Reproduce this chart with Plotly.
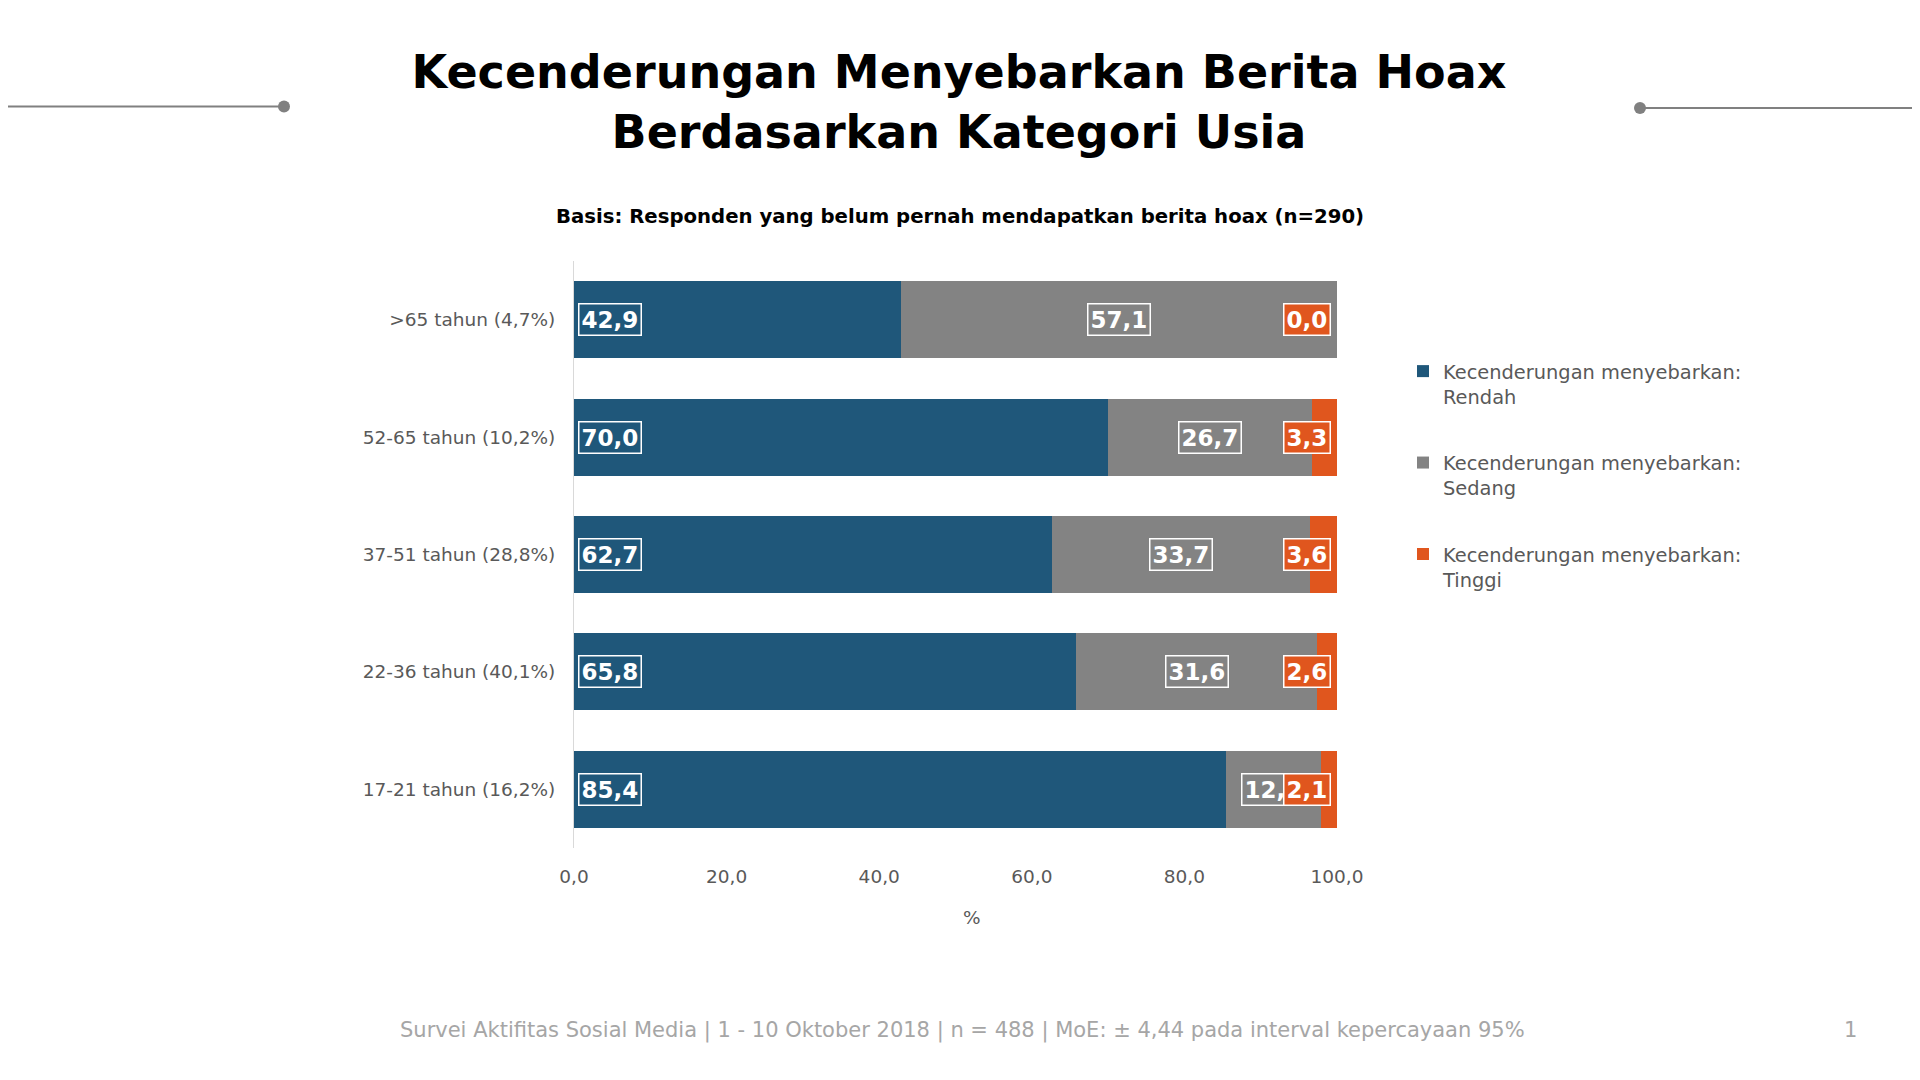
import plotly.graph_objects as go

categories = [">65 tahun (4,7%)", "52-65 tahun (10,2%)", "37-51 tahun (28,8%)",
              "22-36 tahun (40,1%)", "17-21 tahun (16,2%)"]
rendah = [42.9, 70.0, 62.7, 65.8, 85.4]
sedang = [57.1, 26.7, 33.7, 31.6, 12.5]
tinggi = [0.0, 3.3, 3.6, 2.6, 2.1]
series_names = ["Kecenderungan menyebarkan:<br>Rendah",
                "Kecenderungan menyebarkan:<br>Sedang",
                "Kecenderungan menyebarkan:<br>Tinggi"]
x_ticks = [0, 20, 40, 60, 80, 100]

C_RENDAH = "#1F577A"
C_SEDANG = "#838383"
C_TINGGI = "#E0561E"
TXT = "#595959"

# page body has an 8px margin; work in screen pixels and subtract it
OFF = 8
W, H = 1920 - 2 * OFF, 1080 - 2 * OFF
SX0, SX1, SY0, SY1 = 574, 1337, 261, 848
L, R = SX0 - OFF, W - (SX1 - OFF)
T, B = SY0 - OFF, H - (SY1 - OFF)
PW, PH = W - L - R, H - T - B

def px(x):
    return (x - OFF - L) / PW

def py(y):
    return (H - B - (y - OFF)) / PH

fig = go.Figure()
for name, vals, col in [(series_names[0], rendah, C_RENDAH),
                        (series_names[1], sedang, C_SEDANG),
                        (series_names[2], tinggi, C_TINGGI)]:
    fig.add_trace(go.Bar(y=categories, x=vals, orientation="h", name=name,
                         marker=dict(color=col, line=dict(width=0)),
                         hoverinfo="skip"))

def fmt(v):
    return f"{v:.1f}".replace(".", ",")

ann = []
lab_font = dict(family="DejaVu Sans", size=23, color="white", weight="bold")
for i, cat in enumerate(categories):
    ann.append(dict(x=0.5, y=cat, xref="x", yref="y", text=fmt(rendah[i]),
                    xanchor="left", yanchor="middle", showarrow=False,
                    font=lab_font, bgcolor=C_RENDAH, bordercolor="white",
                    borderwidth=1.5, borderpad=2))
    ann.append(dict(x=rendah[i] + sedang[i] / 2, y=cat, xref="x", yref="y",
                    text=fmt(sedang[i]), xanchor="center", yanchor="middle",
                    showarrow=False, font=lab_font, bgcolor=C_SEDANG,
                    bordercolor="white", borderwidth=1.5, borderpad=2))
for i, cat in enumerate(categories):
    ann.append(dict(x=99.2, y=cat, xref="x", yref="y", text=fmt(tinggi[i]),
                    xanchor="right", yanchor="middle", showarrow=False,
                    font=lab_font, bgcolor=C_TINGGI, bordercolor="white",
                    borderwidth=1.5, borderpad=2))

ann.append(dict(x=px(960), y=py(217), xref="paper", yref="paper",
                text="Basis: Responden yang belum pernah mendapatkan berita hoax (n=290)",
                showarrow=False, xanchor="center", yanchor="middle",
                font=dict(family="DejaVu Sans", size=19.7, color="black", weight="bold")))
ann.append(dict(x=px(962), y=py(1030), xref="paper", yref="paper",
                text="Survei Aktifitas Sosial Media | 1 - 10 Oktober 2018 | n = 488 | MoE: ± 4,44 pada interval kepercayaan 95%",
                showarrow=False, xanchor="center", yanchor="middle",
                font=dict(family="DejaVu Sans", size=21, color="#A6A6A6")))
ann.append(dict(x=px(1850), y=py(1030), xref="paper", yref="paper", text="1",
                showarrow=False, xanchor="center", yanchor="middle",
                font=dict(family="DejaVu Sans", size=21, color="#A6A6A6")))
ann.append(dict(x=px(972), y=py(917), xref="paper", yref="paper", text="%",
                showarrow=False, xanchor="center", yanchor="middle",
                font=dict(family="DejaVu Sans", size=18.5, color=TXT)))

shapes = [
    dict(type="line", xref="paper", yref="paper", x0=px(OFF), x1=px(284),
         y0=py(106.5), y1=py(106.5), line=dict(color="#808080", width=2)),
    dict(type="circle", xref="paper", yref="paper", x0=px(278), x1=px(290),
         y0=py(112.5), y1=py(100.5), fillcolor="#808080", line=dict(width=0)),
    dict(type="line", xref="paper", yref="paper", x0=px(1640), x1=px(1920 - OFF),
         y0=py(108), y1=py(108), line=dict(color="#808080", width=2)),
    dict(type="circle", xref="paper", yref="paper", x0=px(1634), x1=px(1646),
         y0=py(114), y1=py(102), fillcolor="#808080", line=dict(width=0)),
]

fig.update_layout(
    width=W, height=H,
    barmode="stack", bargap=0.345,
    separators=",.",
    plot_bgcolor="white", paper_bgcolor="white",
    margin=dict(l=L, r=R, t=T, b=B),
    title=dict(text="Kecenderungan Menyebarkan Berita Hoax<br>Berdasarkan Kategori Usia",
               x=px(959), xref="paper", xanchor="center",
               y=1 - (88 - OFF) / H, yref="container", yanchor="middle",
               font=dict(family="DejaVu Sans", size=46, color="black", weight="bold")),
    xaxis=dict(range=[0, 100], tickvals=x_ticks, tickformat=".1f",
               showgrid=False, zeroline=False, showline=False,
               tickfont=dict(family="DejaVu Sans", size=18.5, color=TXT),
               ticks="", ticklabelstandoff=15),
    yaxis=dict(autorange="reversed", showgrid=False, zeroline=False,
               showline=True, linecolor="#D9D9D9", linewidth=1,
               tickfont=dict(family="DejaVu Sans", size=18.5, color=TXT),
               ticks="", ticklabelstandoff=14),
    legend=dict(x=px(1403), y=py(352), xanchor="left", yanchor="top",
                xref="paper", yref="paper", valign="top",
                traceorder="grouped", tracegroupgap=38,
                font=dict(family="DejaVu Sans", size=19.4, color=TXT),
                bgcolor="rgba(0,0,0,0)"),
    annotations=ann, shapes=shapes,
)
for i, tr in enumerate(fig.data):
    tr.legendgroup = f"g{i}"

fig.write_html("out.html")
